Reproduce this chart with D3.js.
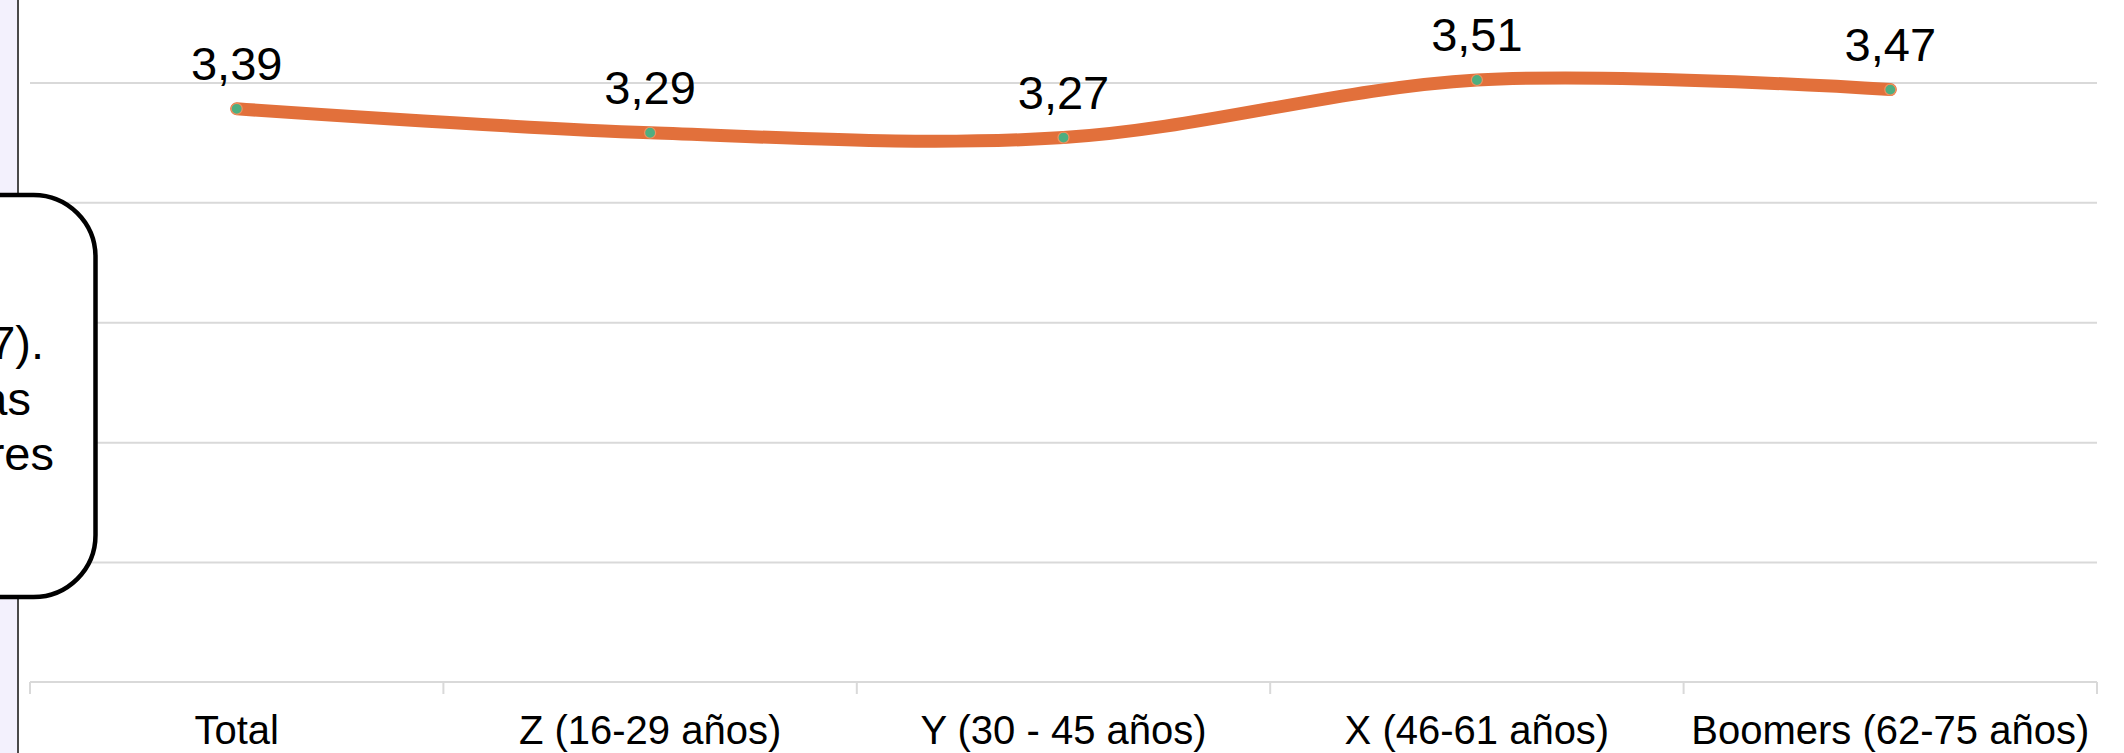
<!DOCTYPE html>
<html>
<head>
<meta charset="utf-8">
<script src="https://cdn.jsdelivr.net/npm/d3@7"></script>
<style>
  html, body { margin: 0; padding: 0; background: #ffffff; }
  svg { display: block; }
  text { font-family: "Liberation Sans", Arial, "DejaVu Sans", sans-serif; fill: #000; }
</style>
</head>
<body>
<svg id="chart" width="2124" height="753"></svg>
<script>
// Generational averages
const categories = ["Total", "Z (16-29 años)", "Y (30 - 45 años)", "X (46-61 años)", "Boomers (62-75 años)"];
const values = [3.39, 3.29, 3.27, 3.51, 3.47];
const gridValues = [1.5, 2.0, 2.5, 3.0, 3.5, 4.0];
const yDomain = [1.0, 3.5];
// Visible tail of the side note
const calloutLines = ["7).", "as", "res"];

const W = 2124, H = 753;
const plot = { left: 30, right: 2097, top: 82.4, bottom: 682 };

const svg = d3.select("#chart");
svg.append("rect").attr("width", W).attr("height", H).attr("fill", "#ffffff");

// Left page strip with its border line
svg.append("rect").attr("x", 0).attr("y", 0).attr("width", 17).attr("height", H).attr("fill", "#f3f1fd");
svg.append("line").attr("x1", 18).attr("x2", 18).attr("y1", 0).attr("y2", H)
  .attr("stroke", "#4a4a4a").attr("stroke-width", 2);

const x = d3.scaleBand().domain(categories).range([plot.left, plot.right]).padding(0);
const y = d3.scaleLinear().domain(yDomain).range([plot.bottom, plot.top]);

const es = d3.formatLocale({ decimal: ",", thousands: ".", grouping: [3], currency: ["", " €"] });
const fmt = es.format(".2f");

// Horizontal gridlines
const grid = svg.append("g").attr("transform", `translate(${plot.left},0)`)
  .call(d3.axisLeft(y).tickValues(gridValues).tickSize(-(plot.right - plot.left)).tickFormat(""));
grid.select(".domain").remove();
grid.selectAll(".tick line").attr("stroke", "#d9d9d9").attr("stroke-width", 2);

// Category axis: baseline, boundary ticks, labels
svg.append("line")
  .attr("x1", plot.left).attr("x2", plot.right)
  .attr("y1", y(yDomain[0])).attr("y2", y(yDomain[0]))
  .attr("stroke", "#d9d9d9").attr("stroke-width", 2);

const boundaries = categories.map(c => x(c)).concat([x.range()[1]]);
svg.append("g").selectAll("line").data(boundaries).join("line")
  .attr("x1", d => d).attr("x2", d => d)
  .attr("y1", y(yDomain[0])).attr("y2", y(yDomain[0]) + 12)
  .attr("stroke", "#d9d9d9").attr("stroke-width", 2);

const xAxis = svg.append("g").attr("transform", `translate(0,${y(yDomain[0])})`)
  .call(d3.axisBottom(x).tickSize(0).tickPadding(0));
xAxis.select(".domain").remove();
xAxis.selectAll(".tick text")
  .attr("dy", null).attr("y", 62)
  .style("font-size", "40px")
  .style("font-family", "'Liberation Sans', Arial, sans-serif")
  .attr("fill", "#000");

// Smoothed series line
const pts = categories.map((c, i) => [x(c) + x.bandwidth() / 2, y(values[i])]);
const line = d3.line().curve(d3.curveCardinal.tension(0));
svg.append("path").attr("d", line(pts))
  .attr("fill", "none").attr("stroke", "#e2703b").attr("stroke-width", 13)
  .attr("stroke-linecap", "round").attr("stroke-linejoin", "round");

// Markers
svg.append("g").selectAll("circle").data(pts).join("circle")
  .attr("cx", d => d[0]).attr("cy", d => d[1]).attr("r", 5.5)
  .attr("fill", "#4eae80").attr("stroke", "#f0905e").attr("stroke-width", 1.2);

// Value labels
svg.append("g").selectAll("text").data(values).join("text")
  .attr("x", (d, i) => pts[i][0])
  .attr("y", (d, i) => pts[i][1] - 29)
  .attr("text-anchor", "middle")
  .style("font-size", "47px")
  .text(d => fmt(d));

// Side note box (partially off the left edge)
const box = { x0: -300, x1: 95.5, y0: 195, y1: 597, r: 62 };
svg.append("rect")
  .attr("x", box.x0).attr("y", box.y0)
  .attr("width", box.x1 - box.x0).attr("height", box.y1 - box.y0)
  .attr("rx", box.r).attr("ry", box.r)
  .attr("fill", "#ffffff").attr("stroke", "#000").attr("stroke-width", 4.5);

const calloutRight = [44, 31, 54];
const calloutBase = [359, 415, 470];
svg.append("g").selectAll("text").data(calloutLines).join("text")
  .attr("x", (d, i) => calloutRight[i])
  .attr("y", (d, i) => calloutBase[i])
  .attr("text-anchor", "end")
  .style("font-size", "47px")
  .text(d => d);
</script>
</body>
</html>
